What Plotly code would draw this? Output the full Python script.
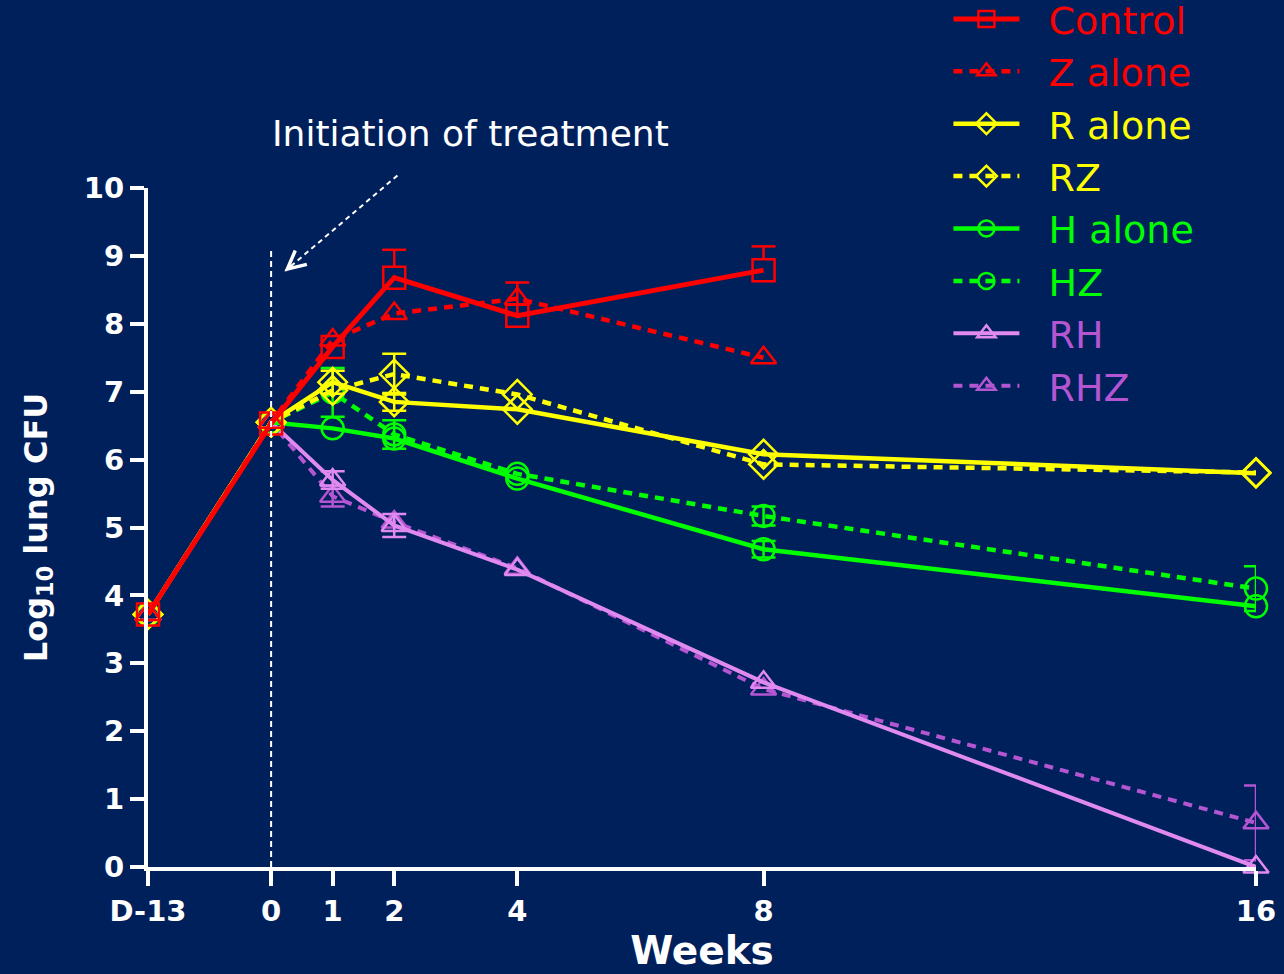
import plotly.graph_objects as go

# ---- data ----
weeks = [-2, 0, 1, 2, 4, 8, 16]
tick_labels = ["D-13", "0", "1", "2", "4", "8", "16"]

control = [3.72, 6.53, 7.66, 8.68, 8.12, 8.79, None]
control_err_up = [0, 0, 0, 0.41, 0, 0.35, 0]

z_alone = [3.72, 6.55, 7.76, 8.15, 8.37, 7.50, None]
z_alone_err = [0, 0, 0, 0, 0.24, 0, 0]

r_alone = [3.72, 6.55, 7.14, 6.85, 6.74, 6.08, 5.80]
r_alone_err = [0, 0, 0.17, 0.13, 0, 0, 0]

rz = [3.72, 6.55, 7.02, 7.26, 6.96, 5.93, 5.81]
rz_err = [0, 0, 0, 0.30, 0, 0, 0]

h_alone = [3.72, 6.55, 6.46, 6.31, 5.72, 4.68, 3.84]
h_alone_err = [0, 0, 0, 0, 0, 0.12, 0]

hz = [3.72, 6.55, 6.99, 6.37, 5.79, 5.17, 4.10]
hz_err = [0, 0, 0.36, 0.21, 0, 0.14, 0.33]

rh = [3.72, 6.55, 5.70, 5.03, 4.38, 2.72, 0.0]
rh_err = [0, 0, 0.13, 0.17, 0, 0, 0]

rhz = [3.72, 6.55, 5.46, 5.08, 4.40, 2.62, 0.65]
rhz_err = [0, 0, 0.15, 0, 0, 0, 0.55]

BG = "#00205C"
RED = "#FF0000"
YEL = "#FFFF00"
GRN = "#00FF00"
LIL = "#E08AF0"
PUR = "#B455D2"
FONT = "DejaVu Sans"
GAP = "\u00a0\u00a0"

series = [
    # name, values, errors, color, text color, symbol, dash, width, rank
    ("RHZ", rhz, rhz_err, PUR, PUR, "triangle-up-open", "9px,7px", 4, 8),
    ("RH", rh, rh_err, LIL, PUR, "triangle-up-open", "solid", 4, 7),
    ("HZ", hz, hz_err, GRN, GRN, "circle-open", "9px,7px", 4.5, 6),
    ("H alone", h_alone, h_alone_err, GRN, GRN, "circle-open", "solid", 4.5, 5),
    ("RZ", rz, rz_err, YEL, YEL, "diamond-open", "9px,7px", 4.5, 4),
    ("R alone", r_alone, r_alone_err, YEL, YEL, "diamond-open", "solid", 4.5, 3),
    ("Z alone", z_alone, z_alone_err, RED, RED, "triangle-up-open", "9px,7px", 4.5, 2),
]

fig = go.Figure()

for name, vals, errs, col, tcol, sym, dash, lw, rank in series:
    ex = [w for w, v, e in zip(weeks, vals, errs) if v is not None and e > 0]
    ey = [v for w, v, e in zip(weeks, vals, errs) if v is not None and e > 0]
    ee = [e for v, e in zip(vals, errs) if v is not None and e > 0]
    fig.add_trace(go.Scatter(
        x=ex, y=ey, mode="markers",
        marker=dict(size=1, color="rgba(0,0,0,0)"),
        error_y=dict(type="data", array=ee, symmetric=True, color=col,
                     thickness=2.5, width=12),
        showlegend=False, hoverinfo="skip", cliponaxis=False))
    fig.add_trace(go.Scatter(
        x=weeks, y=vals, mode="lines+markers",
        name=f"<span style='color:{tcol}'>{GAP}{name}</span>",
        line=dict(color=col, width=lw, dash=dash),
        marker=dict(symbol=sym, size=22, color=col, line=dict(color=col, width=2.5)),
        legendrank=rank, cliponaxis=False))

# Control error bars (upper only), built from the data
cap = 0.195
mk = 0.17
cx, cy = [], []
for w, v, e in zip(weeks, control, control_err_up):
    if v is not None and e > 0:
        cx += [w, w, None, w - cap, w + cap, None]
        cy += [v + mk, v + e, None, v + e, v + e, None]
fig.add_trace(go.Scatter(x=cx, y=cy, mode="lines", line=dict(color=RED, width=2.5),
                         showlegend=False, hoverinfo="skip", cliponaxis=False))
fig.add_trace(go.Scatter(
    x=weeks, y=control, mode="lines+markers",
    name=f"<span style='color:{RED}'>{GAP}Control</span>",
    line=dict(color=RED, width=5),
    marker=dict(symbol="square-open", size=22, color=RED, line=dict(color=RED, width=2.5)),
    legendrank=1, cliponaxis=False))

# treatment start line
fig.add_shape(type="line", xref="x", yref="y", x0=0, x1=0, y0=0, y1=9.08,
              line=dict(color="white", width=2, dash="6px,4px"))
# dashed arrow
fig.add_shape(type="line", xref="paper", yref="paper", x0=0.2251, y0=1.0184,
              x1=0.1240, y1=0.8780, line=dict(color="white", width=2, dash="5px,4px"))
fig.add_annotation(xref="paper", yref="paper", x=0.1231, y=0.8770,
                   ax=9, ay=-7.6, axref="pixel", ayref="pixel",
                   text="", showarrow=True, arrowhead=5, arrowsize=2.2,
                   arrowwidth=1.6, arrowcolor="white")
fig.add_annotation(xref="paper", yref="paper", x=0.291, y=1.080,
                   text="Initiation of treatment", showarrow=False,
                   font=dict(size=36, color="white", family=FONT),
                   xanchor="center", yanchor="middle")

axis_font = dict(family=FONT, size=29, color="white", weight="bold")
fig.update_layout(
    width=1284, height=974,
    paper_bgcolor=BG, plot_bgcolor=BG,
    margin=dict(l=147.6, r=28.4, t=187.5, b=107, autoexpand=False),
    font=dict(family=FONT, color="white"),
    xaxis=dict(range=[-2, 16], tickmode="array", tickvals=weeks, ticktext=tick_labels,
               showgrid=False, zeroline=False, showline=True, linecolor="white",
               linewidth=4, ticks="outside", ticklen=15, tickwidth=3.5,
               tickcolor="white", tickfont=axis_font,
               title=dict(text="Weeks", standoff=11,
                          font=dict(family=FONT, size=39, color="white", weight="bold"))),
    yaxis=dict(range=[0, 10], tickmode="array", tickvals=list(range(0, 11)),
               showgrid=False, zeroline=False, showline=True, linecolor="white",
               linewidth=4, ticks="outside", ticklen=14, tickwidth=3.5,
               tickcolor="white", tickfont=axis_font,
               title=dict(text="Log<sub>10</sub> lung CFU", standoff=28,
                          font=dict(family=FONT, size=32, color="white", weight="bold"))),
    legend=dict(x=0.7224, y=1.295, xanchor="left", yanchor="top",
                bgcolor="rgba(0,0,0,0)", font=dict(size=38, family=FONT),
                itemwidth=66, tracegroupgap=0),
    showlegend=True,
)

fig.write_html("out.html", post_script="document.body.style.margin='0px';",
               config={"displayModeBar": False})
